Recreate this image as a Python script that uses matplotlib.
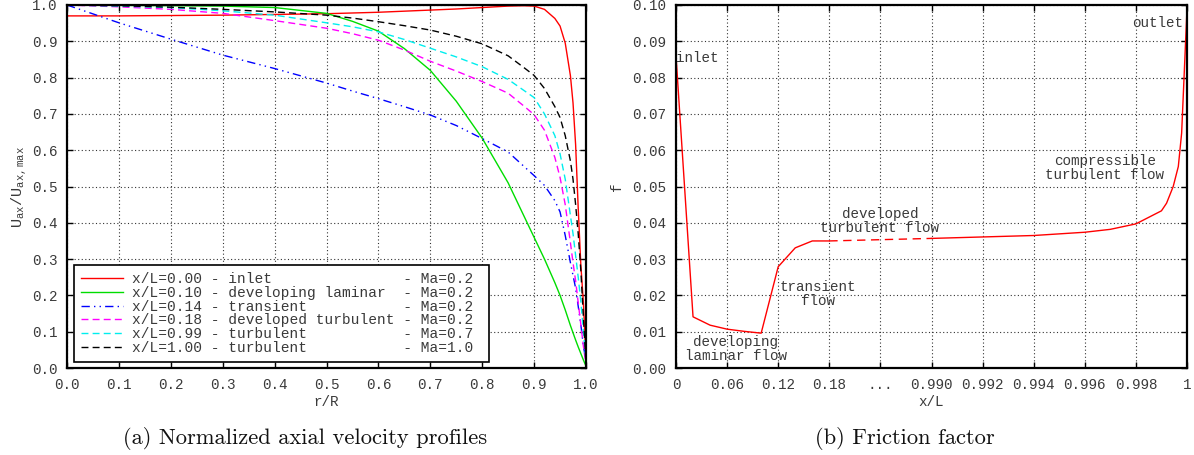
import numpy as np
import matplotlib
matplotlib.use("Agg")
import matplotlib.pyplot as plt

# ---------------- data: (a) velocity profiles ----------------
r_R = [0, 0.1, 0.2, 0.3, 0.4, 0.5, 0.55, 0.6, 0.65, 0.7, 0.75, 0.8, 0.85, 0.88,
       0.9, 0.92, 0.94, 0.95, 0.96, 0.97, 0.975, 0.98, 0.985, 0.99, 0.995, 1.0]
u_inlet = [0.970, 0.970, 0.971, 0.972, 0.974, 0.976, 0.978, 0.980, 0.983, 0.986,
           0.989, 0.993, 0.997, 0.998, 0.997, 0.988, 0.963, 0.942, 0.895, 0.805,
           0.730, 0.615, 0.440, 0.285, 0.180, 0.020]
u_lam = [1.0, 0.999, 0.998, 0.997, 0.993, 0.977, 0.955, 0.928, 0.880, 0.820,
         0.735, 0.633, 0.510, 0.420, 0.360, 0.300, 0.235, 0.200, 0.160, 0.117,
         0.097, 0.077, 0.058, 0.040, 0.022, 0.005]
u_trans = [1.0, 0.951, 0.906, 0.862, 0.825, 0.785, 0.763, 0.742, 0.720, 0.697,
           0.668, 0.632, 0.595, 0.556, 0.530, 0.503, 0.461, 0.430, 0.365, 0.290,
           0.255, 0.220, 0.170, 0.120, 0.060, 0.020]
u_devturb = [1.0, 0.995, 0.988, 0.977, 0.957, 0.936, 0.921, 0.903, 0.876, 0.845,
             0.818, 0.789, 0.757, 0.722, 0.698, 0.655, 0.580, 0.525, 0.450, 0.345,
             0.290, 0.240, 0.180, 0.120, 0.060, 0.010]
u_turb07 = [1.0, 0.997, 0.993, 0.984, 0.972, 0.951, 0.940, 0.926, 0.905, 0.881,
            0.857, 0.830, 0.795, 0.765, 0.745, 0.700, 0.640, 0.590, 0.520, 0.420,
            0.370, 0.310, 0.250, 0.184, 0.100, 0.020]
u_turb10 = [1.0, 0.998, 0.994, 0.988, 0.981, 0.972, 0.964, 0.954, 0.943, 0.931,
            0.914, 0.893, 0.860, 0.828, 0.806, 0.770, 0.720, 0.690, 0.640, 0.570,
            0.520, 0.450, 0.370, 0.270, 0.140, 0.010]

series_labels = [
    "x/L=0.00 - inlet               - Ma=0.2 ",
    "x/L=0.10 - developing laminar  - Ma=0.2 ",
    "x/L=0.14 - transient           - Ma=0.2 ",
    "x/L=0.18 - developed turbulent - Ma=0.2 ",
    "x/L=0.99 - turbulent           - Ma=0.7 ",
    "x/L=1.00 - turbulent           - Ma=1.0 ",
]

# ---------------- data: (b) friction factor ----------------
xL_entry = [0, 0.02, 0.04, 0.06, 0.08, 0.10, 0.12, 0.14, 0.16, 0.18]
f_entry = [0.0860, 0.0141, 0.0118, 0.0107, 0.0101, 0.0096, 0.0279, 0.0331, 0.0350, 0.0350]
xL_gap = [0.18, 0.990]
f_gap = [0.0350, 0.0357]
xL_exit = [0.990, 0.992, 0.994, 0.996, 0.997, 0.998, 0.999, 0.9992, 0.99946,
           0.99966, 0.99979, 0.99988, 1.0]
f_exit = [0.0357, 0.0361, 0.0365, 0.0374, 0.0382, 0.0397, 0.0433, 0.0454, 0.0500,
          0.0555, 0.0647, 0.0793, 0.0990]

xb_ticks = [0, 0.06, 0.12, 0.18, 0.585, 0.990, 0.992, 0.994, 0.996, 0.998, 1.0]
xb_ticklabels = ["0", "0.06", "0.12", "0.18", "...", "0.990", "0.992", "0.994",
                 "0.996", "0.998", "1"]

# ---------------- style ----------------
MONO = "Liberation Mono"
FS = 10.3
TXT = "#3a3a3a"
plt.rcParams["font.family"] = MONO
plt.rcParams["font.size"] = FS
plt.rcParams["mathtext.fontset"] = "custom"
plt.rcParams["mathtext.rm"] = MONO
plt.rcParams["mathtext.it"] = MONO

fig = plt.figure(figsize=(11.94, 4.55), dpi=100)
ax1 = fig.add_axes([67 / 1194, 1 - 368 / 455, (586 - 67) / 1194, (368 - 5) / 455])
ax2 = fig.add_axes([676 / 1194, 1 - 368 / 455, (1187 - 676) / 1194, (368 - 5) / 455])


def style_axes(ax):
    for s in ax.spines.values():
        s.set_linewidth(1.6)
        s.set_color("black")
    ax.tick_params(direction="in", length=4, width=1.0, top=True, right=True,
                   colors="black", labelcolor=TXT, labelsize=FS, pad=7)
    ax.grid(True, color="#333333", linestyle=(0, (1, 2.2)), linewidth=0.8)
    ax.set_axisbelow(True)


# ---------- (a) ----------
styles = [
    dict(color="#ff0000", linestyle="-"),
    dict(color="#00dd00", linestyle="-"),
    dict(color="#0000ff", linestyle=(0, (6, 3, 1, 3, 1, 3))),
    dict(color="#ff00ff", linestyle=(0, (5, 3))),
    dict(color="#00eeee", linestyle=(0, (5, 3))),
    dict(color="#000000", linestyle=(0, (5, 3))),
]
data_a = [u_inlet, u_lam, u_trans, u_devturb, u_turb07, u_turb10]
for u, st, lab in zip(data_a, styles, series_labels):
    ax1.plot(r_R, u, linewidth=1.0, label=lab, **st)

ax1.set_xlim(0, 1)
ax1.set_ylim(0, 1)
ax1.set_xticks(np.arange(0, 1.01, 0.1))
ax1.set_yticks(np.arange(0, 1.01, 0.1))
ax1.xaxis.set_major_formatter(matplotlib.ticker.FormatStrFormatter("%.1f"))
ax1.yaxis.set_major_formatter(matplotlib.ticker.FormatStrFormatter("%.1f"))
style_axes(ax1)
ax1.set_xlabel("r/R", color=TXT, labelpad=2.5)
ax1.set_ylabel(r"U$_{\rm ax}$/U$_{\rm ax,max}$", color=TXT, labelpad=2, fontsize=11)
leg = ax1.legend(loc="lower left", bbox_to_anchor=(0.0135, 0.0165), borderaxespad=0,
                 frameon=True, fancybox=False, framealpha=1, edgecolor="black",
                 handlelength=2.9, handletextpad=0.6, labelspacing=-0.02,
                 borderpad=0.5, prop={"family": MONO, "size": 10.45})
leg.get_frame().set_linewidth(1.2)
for t in leg.get_texts():
    t.set_color(TXT)

# ---------- (b) ----------
brk_x = [0.0, 0.18, 0.99, 1.0]
brk_p = [0.0, 3.0, 5.0, 10.0]


def fwd(x):
    return np.interp(x, brk_x, brk_p)


def inv(p):
    return np.interp(p, brk_p, brk_x)


ax2.set_xscale("function", functions=(fwd, inv))
ax2.plot(xL_entry, f_entry, color="#ff0000", linewidth=1.0)
ax2.plot(xL_gap, f_gap, color="#ff0000", linewidth=1.0, linestyle=(0, (6, 4)))
ax2.plot(xL_exit, f_exit, color="#ff0000", linewidth=1.0)
ax2.set_xlim(0, 1)
ax2.set_ylim(0, 0.1)
ax2.set_xticks(xb_ticks)
ax2.set_xticklabels(xb_ticklabels)
ax2.xaxis.set_minor_locator(matplotlib.ticker.NullLocator())
ax2.set_yticks(np.arange(0, 0.1001, 0.01))
ax2.yaxis.set_major_formatter(matplotlib.ticker.FormatStrFormatter("%.2f"))
style_axes(ax2)
ax2.set_xlabel("x/L", color=TXT, labelpad=2.5)
ax2.set_ylabel("f", color=TXT, labelpad=6)

tkw = dict(color=TXT, fontsize=FS, family=MONO, linespacing=1.0)
ax2.text(0.0005, 0.0853, "inlet", ha="left", va="center", **tkw)
ax2.text(inv(1.174), 0.0052, "developing\nlaminar flow", ha="center", va="center", **tkw)
ax2.text(inv(2.78), 0.0203, "transient\nflow", ha="center", va="center", **tkw)
ax2.text(inv(3.99), 0.0404, "developed\nturbulent flow", ha="center", va="center", **tkw)
ax2.text(inv(8.39), 0.0552, "compressible\nturbulent flow", ha="center", va="center", **tkw)
ax2.text(inv(9.92), 0.0951, "outlet", ha="right", va="center", **tkw)

# captions
fig.text(305 / 1194, 1 - 438 / 455, "(a) Normalized axial velocity profiles",
         family="cmr10", fontsize=16.2, ha="center", va="center", color="#111111")
fig.text(905 / 1194, 1 - 438 / 455, "(b) Friction factor",
         family="cmr10", fontsize=16.2, ha="center", va="center", color="#111111")

fig.savefig("out.png", dpi=100)
